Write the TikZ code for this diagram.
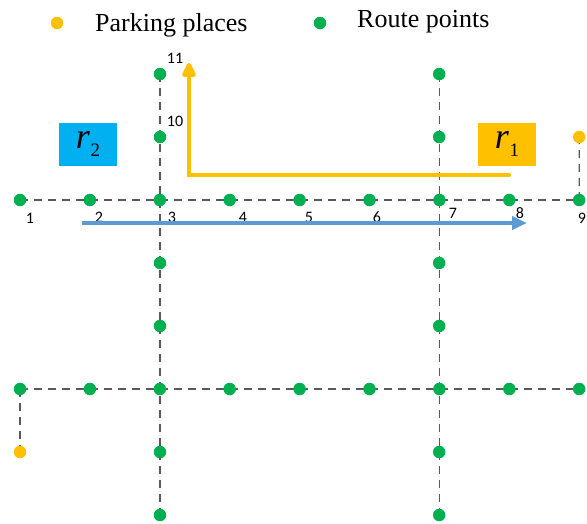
\documentclass[tikz,border=0pt]{standalone}
\usepackage{fontspec}
\setmainfont{Liberation Serif}
\newfontfamily\numfont{Carlito}
\usetikzlibrary{arrows.meta,backgrounds}

\definecolor{routegreen}{HTML}{00B050}
\definecolor{parkyellow}{HTML}{FFC000}
\definecolor{arrowblue}{HTML}{5B9BD5}
\definecolor{boxblue}{HTML}{00B0F0}
\definecolor{streetgray}{HTML}{595959}

\tikzset{
  routedot/.style={circle, fill=routegreen, inner sep=0pt, minimum size=12.5pt},
  parkdot/.style={circle, fill=parkyellow, inner sep=0pt, minimum size=12.5pt},
  street/.style={draw=streetgray, line width=1.3pt, dash pattern=on 8pt off 6pt},
  ptlabel/.style={font=\numfont\fontsize{16}{16}\selectfont, inner sep=0pt, text=black},
  legendtext/.style={font=\fontsize{26}{26}\selectfont, inner sep=0pt, anchor=base west},
  routebox/.style={minimum width=58pt, minimum height=43pt, inner sep=0pt},
  routepath/.style={line width=4.5pt},
}

\newcommand{\routename}[2]{%
  \fontsize{36}{36}\selectfont\textit{#1}\kern0.5pt\raisebox{-8pt}{\fontsize{19}{19}\selectfont #2}}

\begin{document}
\begin{tikzpicture}[x=1pt, y=-1pt]
\useasboundingbox (0,0) rectangle (587,523);

% legend
\node[parkdot] (legpark) at (57,23) {};
\node[legendtext] (legparktext) at (95,31) {Parking places};
\node[routedot] (legroute) at (320,23) {};
\node[legendtext] (legroutetext) at (357,27) {Route points};

% the two horizontal streets
\foreach \i in {1,...,9} {
  \node[routedot] (t\i) at ({20+69.9*(\i-1)},200) {};
  \node[routedot] (b\i) at ({20+69.9*(\i-1)},389) {};
}

% the two vertical streets
\foreach \k/\y in {1/74, 2/137, 4/263, 5/326, 7/452, 8/515} {
  \node[routedot] (l\k) at (160,\y) {};
  \node[routedot] (m\k) at (439.2,\y) {};
}

% parking places
\node[parkdot] (p1) at (20,452) {};
\node[parkdot] (p2) at (579.2,137) {};

% dashed street lines beneath the dots
\begin{scope}[on background layer]
  \draw[street] (t1.center) -- (t9.center);
  \draw[street] (b1.center) -- (b9.center);
  \draw[street] (l1.center) -- (l8.center);
  \draw[street] (m1.center) -- (m8.center);
  \draw[street] (b1.center) -- (p1.center);
  \draw[street] (t9.center) -- (p2.center);
\end{scope}

% point numbers
\node[ptlabel] (n1) at (30,218) {1};
\node[ptlabel] (n2) at (99,217) {2};
\node[ptlabel] (n3) at (172,217) {3};
\node[ptlabel] (n4) at (243,217) {4};
\node[ptlabel] (n5) at (309,217) {5};
\node[ptlabel] (n6) at (377,217) {6};
\node[ptlabel] (n7) at (453,213) {7};
\node[ptlabel] (n8) at (520,213) {8};
\node[ptlabel] (n9) at (582,218) {9};
\node[ptlabel] (n10) at (175,121) {10};
\node[ptlabel] (n11) at (175,58) {11};

% routes r1 and r2
\coordinate (r1start) at (509,175);
\coordinate (r1end) at (189,63);
\draw[routepath, draw=parkyellow, line cap=round, line join=miter,
      -{Triangle[length=17pt, width=15pt, round=false]}]
  (r1start) -| (r1end);

\coordinate (r2start) at (82,223);
\coordinate (r2end) at (527,223);
\draw[line width=4pt, draw=arrowblue, -{Triangle[length=15pt, width=13pt]}]
  (r2start) -- (r2end);

\node[routebox, fill=boxblue] (r2box) at (88,144) {\routename{r}{2}};
\node[routebox, fill=parkyellow] (r1box) at (507,144) {\routename{r}{1}};
\end{tikzpicture}
\end{document}
